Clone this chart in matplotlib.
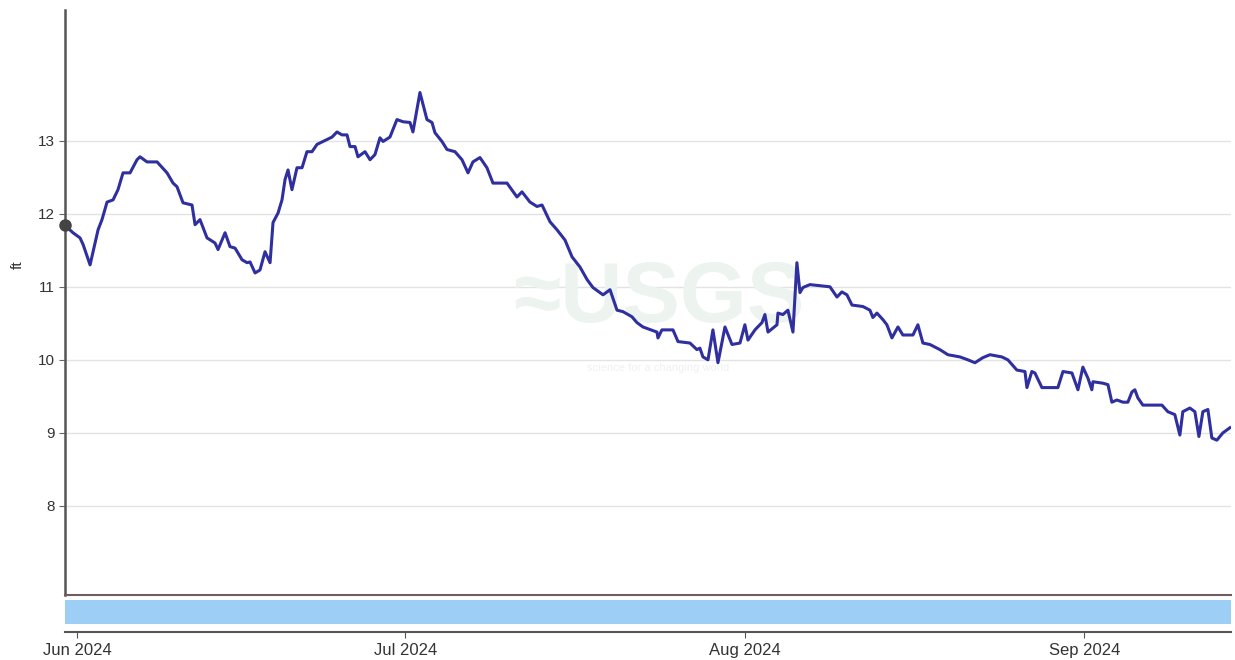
import pandas as pd
import matplotlib.pyplot as plt
import matplotlib.dates as mdates

plt.rcParams["font.family"] = ["Liberation Sans", "DejaVu Sans"]

# gage height readings, days counted from 2024-06-01
days = [
    -1.10, -0.37, 0.27, 0.55, 1.19, 1.92, 2.28, 2.74, 3.29, 3.74, 4.20, 4.84,
    5.48, 5.75, 6.39, 7.31, 8.22, 8.77, 9.13, 9.68, 10.50, 10.78, 11.23, 11.87,
    12.60, 12.88, 13.52, 13.97, 14.43, 15.07, 15.53, 15.80, 16.26, 16.71, 17.17,
    17.63, 17.90, 18.36, 18.72, 19.00, 19.27, 19.63, 20.09, 20.55, 21.00, 21.46,
    21.92, 22.47, 23.29, 23.74, 24.20, 24.66, 24.93, 25.39, 25.66, 26.30, 26.76,
    27.21, 27.67, 27.95, 28.58, 29.22, 29.77, 30.41, 30.68, 31.32, 31.96, 32.42,
    32.69, 33.33, 33.79, 34.52, 35.16, 35.71, 36.16, 36.80, 37.44, 37.99, 39.27,
    40.18, 40.64, 41.37, 42.01, 42.47, 43.20, 43.84, 44.57, 45.21, 45.94, 46.58,
    47.12, 48.04, 48.68, 49.32, 49.86, 50.68, 51.14, 51.69, 52.97, 53.06, 53.42,
    54.43, 54.89, 55.98, 56.62, 56.89, 57.17, 57.63, 58.08, 58.54, 59.18, 59.82,
    60.55, 61.00, 61.28, 61.92, 62.56, 62.83, 63.11, 63.93, 64.02, 64.47, 64.93,
    65.39, 65.75, 66.03, 66.30, 66.94, 68.77, 69.41, 69.86, 70.32, 70.78, 71.78,
    72.42, 72.69, 73.06, 73.61, 73.97, 74.43, 74.98, 75.43, 76.35, 76.80, 77.26,
    77.90, 78.81, 79.54, 80.64, 81.37, 82.01, 82.74, 83.38, 84.47, 85.02, 85.84,
    86.58, 86.76, 87.21, 87.49, 88.13, 89.59, 90.05, 90.87, 91.42, 91.87, 92.33,
    92.69, 92.79, 93.70, 94.16, 94.52, 94.98, 95.53, 95.98, 96.35, 96.62, 96.89,
    97.35, 99.09, 99.63, 100.27, 100.73, 101.00, 101.64, 102.10, 102.47, 102.83,
    103.29, 103.65, 104.11, 104.66, 105.30,
]
stage_ft = [
    11.84, 11.74, 11.67, 11.58, 11.30, 11.78, 11.92, 12.16, 12.19, 12.33, 12.56, 12.56,
    12.74, 12.78, 12.71, 12.71, 12.56, 12.42, 12.37, 12.15, 12.12, 11.85, 11.92, 11.67,
    11.60, 11.51, 11.74, 11.55, 11.53, 11.37, 11.33, 11.34, 11.19, 11.23, 11.48,
    11.33, 11.88, 12.01, 12.19, 12.47, 12.60, 12.33, 12.63, 12.63, 12.85, 12.85,
    12.95, 12.99, 13.05, 13.12, 13.08, 13.08, 12.92, 12.92, 12.78, 12.85, 12.74,
    12.81, 13.04, 12.99, 13.05, 13.29, 13.26, 13.25, 13.12, 13.66, 13.29, 13.25,
    13.11, 12.99, 12.88, 12.85, 12.74, 12.56, 12.71, 12.77, 12.63, 12.42, 12.42,
    12.23, 12.30, 12.16, 12.10, 12.12, 11.89, 11.78, 11.64, 11.41, 11.27, 11.10,
    10.99, 10.89, 10.96, 10.68, 10.66, 10.59, 10.51, 10.45, 10.38, 10.30, 10.41,
    10.41, 10.25, 10.23, 10.14, 10.16, 10.04, 10.00, 10.41, 9.96, 10.45, 10.21,
    10.23, 10.48, 10.27, 10.41, 10.51, 10.62, 10.38, 10.48, 10.64, 10.62, 10.68,
    10.38, 11.33, 10.92, 10.99, 11.03, 11.00, 10.86, 10.93, 10.89, 10.75, 10.73,
    10.68, 10.58, 10.64, 10.55, 10.48, 10.30, 10.45, 10.34, 10.34, 10.48, 10.23,
    10.21, 10.14, 10.07, 10.04, 10.00, 9.96, 10.03, 10.07, 10.04, 10.00, 9.86,
    9.84, 9.62, 9.84, 9.82, 9.62, 9.62, 9.84, 9.82, 9.59, 9.90, 9.75,
    9.59, 9.70, 9.68, 9.66, 9.42, 9.45, 9.42, 9.42, 9.56, 9.59, 9.48,
    9.38, 9.38, 9.29, 9.25, 8.97, 9.29, 9.34, 9.29, 8.95, 9.29,
    9.32, 8.93, 8.90, 9.00, 9.07,
]
y_ticks = [8, 9, 10, 11, 12, 13]
month_ticks = ["2024-06-01", "2024-07-01", "2024-08-01", "2024-09-01"]

start = pd.Timestamp("2024-06-01")
times = start + pd.to_timedelta(days, unit="D")
x_min = start + pd.Timedelta(days=-1.1)
x_max = start + pd.Timedelta(days=105.4)

W, H = 1235, 660
fig = plt.figure(figsize=(W / 100, H / 100), dpi=100)
left, right = 65 / W, 1231 / W
ax = fig.add_axes([left, 1 - 595 / H, right - left, (595 - 10) / H])

ax.plot(times, stage_ft, color="#2f2f9f", lw=2.2, zorder=3)
ax.plot(times[0], stage_ft[0], "o", color="#444444", ms=8, clip_on=False, zorder=4)

ax.set_xlim(x_min, x_max)
ax.set_ylim(6.78, 14.79)
ax.set_yticks(y_ticks)
ax.tick_params(axis="y", labelsize=11, labelcolor="#333333", length=4, color="#666666")
ax.tick_params(axis="x", bottom=False, labelbottom=False)
ax.grid(axis="y", color="#e3e3e3", lw=1)
ax.set_axisbelow(True)
for side in ["top", "right"]:
    ax.spines[side].set_visible(False)
ax.spines["left"].set_color("#555555")
ax.spines["left"].set_linewidth(1.8)
ax.spines["bottom"].set_color("#6e5f5f")
ax.spines["bottom"].set_linewidth(1.5)
fig.text(18 / W, 1 - 265 / H, "ft", rotation=90, ha="center", va="center",
         fontsize=11, color="#333333")

# faint watermark
ax.text(0.509, 0.505, "≈USGS", transform=ax.transAxes, ha="center", va="center",
        fontsize=62, fontweight="bold", color="#edf3ef", zorder=1)
ax.text(0.509, 0.388, "science for a changing world", transform=ax.transAxes,
        ha="center", va="center", fontsize=8, color="#eef2ef", zorder=1)

# navigator strip
nav = fig.add_axes([left, 1 - 632 / H, right - left, (632 - 598) / H])
nav.set_xlim(x_min, x_max)
nav.set_ylim(0, 1)
nav.axhspan(0.235, 0.94, color="#9dcff6", lw=0)
nav.set_yticks([])
nav.set_xticks(pd.to_datetime(month_ticks))
nav.xaxis.set_major_formatter(mdates.DateFormatter("%b %Y"))
nav.tick_params(axis="x", labelsize=12, labelcolor="#333333", length=4,
                color="#555555", pad=4)
for side in ["top", "right", "left"]:
    nav.spines[side].set_visible(False)
nav.spines["bottom"].set_color("#555555")
nav.spines["bottom"].set_linewidth(1.5)

fig.savefig("out.png", dpi=100)
